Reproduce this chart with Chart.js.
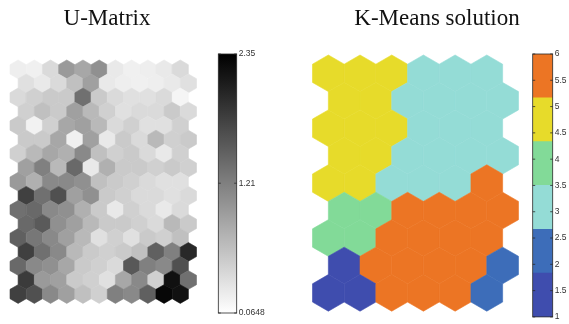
<!DOCTYPE html>
<html>
<head>
<meta charset="utf-8">
<script src="https://cdn.jsdelivr.net/npm/chart.js@4.4.1/dist/chart.umd.min.js"></script>
<style>
  html, body { margin: 0; padding: 0; background: #fff; overflow: hidden; }
  #wrap { position: relative; width: 569px; height: 324px; overflow: hidden; }
  #wrap canvas { position: absolute; top: 0; }
</style>
</head>
<body>
<div id="wrap">
  <canvas id="umat" width="214" height="324" style="left:0px;width:214px;height:324px"></canvas>
  <canvas id="ubar" width="80" height="324" style="left:200px;width:80px;height:324px"></canvas>
  <canvas id="kmap" width="274" height="324" style="left:300px;width:274px;height:324px"></canvas>
  <canvas id="kbar" width="69" height="324" style="left:500px;width:69px;height:324px"></canvas>
</div>
<script>
// U-matrix of a 9x6 hexagonal SOM: 17 rows x 11 columns of distances
const uMatrix = [
  [0.22, 0.20, 0.40, 0.97, 0.85, 1.06, 0.26, 0.20, 0.22, 0.26, 0.40],
  [0.34, 0.26, 0.40, 0.63, 0.92, 0.26, 0.22, 0.20, 0.22, 0.26, 0.34],
  [0.40, 0.49, 0.54, 0.54, 1.35, 0.54, 0.40, 0.34, 0.34, 0.40, 0.15],
  [0.49, 0.63, 0.54, 0.92, 0.69, 0.49, 0.34, 0.40, 0.40, 0.54, 0.40],
  [0.54, 0.18, 0.49, 0.85, 0.92, 0.69, 0.40, 0.49, 0.34, 0.34, 0.49],
  [0.54, 0.54, 0.85, 0.20, 0.92, 0.26, 0.54, 0.40, 0.69, 0.49, 0.54],
  [0.49, 0.69, 0.85, 0.77, 1.12, 0.63, 0.49, 0.54, 0.40, 0.26, 0.49],
  [0.92, 1.20, 0.69, 1.41, 0.26, 0.77, 0.54, 0.54, 0.49, 0.54, 0.49],
  [0.97, 0.77, 1.12, 1.12, 1.06, 0.63, 0.54, 0.49, 0.40, 0.34, 0.34],
  [1.78, 1.35, 1.63, 0.92, 1.06, 0.54, 0.49, 0.40, 0.40, 0.34, 0.40],
  [1.35, 1.41, 1.12, 1.06, 0.77, 0.54, 0.26, 0.49, 0.40, 0.26, 0.40],
  [1.41, 1.54, 1.06, 0.92, 0.69, 0.54, 0.54, 0.49, 0.40, 0.69, 0.54],
  [1.49, 1.28, 1.12, 0.92, 0.69, 0.34, 0.49, 0.34, 0.54, 0.49, 0.63],
  [1.78, 1.35, 1.12, 0.69, 0.54, 0.49, 0.54, 0.63, 1.49, 1.20, 1.99],
  [1.41, 1.12, 1.06, 0.85, 0.54, 0.49, 0.40, 1.56, 1.20, 1.12, 1.63],
  [1.82, 0.97, 0.92, 0.54, 0.49, 0.34, 0.85, 1.12, 0.49, 2.21, 1.35],
  [1.78, 1.63, 1.12, 0.92, 0.63, 0.49, 1.20, 1.12, 1.49, 2.29, 2.20]
];

// K-means cluster label (1..6) of every map unit, 9 rows x 6 columns
const kmeansClusters = [
  [5, 5, 5, 3, 3, 3],
  [5, 5, 3, 3, 3, 3],
  [5, 5, 5, 3, 3, 3],
  [5, 5, 3, 3, 3, 3],
  [5, 5, 3, 3, 3, 6],
  [4, 4, 6, 6, 6, 6],
  [4, 4, 6, 6, 6, 6],
  [1, 6, 6, 6, 6, 2],
  [1, 1, 6, 6, 6, 2]
];

const uRange = [0.0648, 2.35];
const uTicks = [0.0648, 1.21, 2.35];
const uTickLabels = ['0.0648', '1.21', '2.35'];

const kRange = [1, 6];
const kTicks = [1, 1.5, 2, 2.5, 3, 3.5, 4, 4.5, 5, 5.5, 6];
const kTickLabels = ['1', '1.5', '2', '2.5', '3', '3.5', '4', '4.5', '5', '5.5', '6'];

// palette for clusters 1..6
const clusterPalette = ['#3f4dae', '#3d6db9', '#94dcd6', '#82da98', '#e7db2a', '#ec7524'];

const titleFont = { family: 'Liberation Serif', size: 23, weight: 'normal', lineHeight: 1.2 };
const tickFont = { family: 'Liberation Sans', size: 8.5 };

// inverted gray colormap: small distance = white, large distance = black
function grayFor(v) {
  const t = Math.min(1, Math.max(0, (v - uRange[0]) / (uRange[1] - uRange[0])));
  const g = Math.round(255 * (1 - t));
  return `rgb(${g},${g},${g})`;
}

// hexagonal lattice: every odd row is shifted half a unit to the right
function latticePoints(grid) {
  const pts = [];
  grid.forEach((row, r) => row.forEach((_, c) => pts.push({ x: c + (r % 2) * 0.5, y: r })));
  return pts;
}

const uPoints = latticePoints(uMatrix);
const uColors = uMatrix.flat().map(grayFor);
const kPoints = latticePoints(kmeansClusters);
const kColors = kmeansClusters.flat().map(k => clusterPalette[k - 1]);

// draws a pointy-top hexagon around every point, sized from the scales
const hexCells = {
  id: 'hexCells',
  afterDatasetsDraw(chart) {
    const { ctx, scales: { x, y } } = chart;
    const hw = Math.abs(x.getPixelForValue(0.5) - x.getPixelForValue(0));
    const ry = Math.abs(y.getPixelForValue(1) - y.getPixelForValue(0)) / 1.5;
    ctx.save();
    chart.data.datasets.forEach((ds, di) => {
      chart.getDatasetMeta(di).data.forEach((pt, i) => {
        const fill = ds.backgroundColor[i];
        ctx.beginPath();
        ctx.moveTo(pt.x, pt.y - ry);
        ctx.lineTo(pt.x + hw, pt.y - ry / 2);
        ctx.lineTo(pt.x + hw, pt.y + ry / 2);
        ctx.lineTo(pt.x, pt.y + ry);
        ctx.lineTo(pt.x - hw, pt.y + ry / 2);
        ctx.lineTo(pt.x - hw, pt.y - ry / 2);
        ctx.closePath();
        ctx.fillStyle = fill;
        ctx.fill();
        ctx.strokeStyle = fill;
        ctx.lineWidth = 0.6;
        ctx.stroke();
      });
    });
    ctx.restore();
  }
};

// the plot area spans the whole canvas width; the x range is widened so that
// one lattice unit equals `unitPx` pixels and the map starts `leftPx` in
function mapChart(id, grid, points, colors, title, unitPx, leftPx, bottomPad, titleBottom) {
  const rows = grid.length;
  const widthPx = document.getElementById(id).width;
  const xMin = -0.5 - leftPx / unitPx;
  return new Chart(document.getElementById(id), {
    type: 'scatter',
    data: { datasets: [{ data: points, backgroundColor: colors, pointRadius: 0, pointHoverRadius: 0 }] },
    options: {
      responsive: false,
      animation: false,
      events: [],
      layout: { padding: { left: 0, right: 0, top: 0, bottom: bottomPad } },
      scales: {
        x: { type: 'linear', display: false, min: xMin, max: xMin + widthPx / unitPx },
        y: { type: 'linear', display: false, reverse: true, min: -2 / 3, max: rows - 1 + 2 / 3 }
      },
      plugins: {
        legend: { display: false },
        tooltip: { enabled: false },
        title: { display: true, text: title, color: '#111', font: titleFont, padding: { top: 5, bottom: titleBottom } }
      }
    },
    plugins: [hexCells]
  });
}

mapChart('umat', uMatrix, uPoints, uColors, 'U-Matrix', 16.217, 10, 20.6, 27.4);
mapChart('kmap', kmeansClusters, kPoints, kColors, 'K-Means solution', 31.69, 12.5, 12.8, 22.4);

// frame and inward tick marks of a colorbar
const barFrame = {
  id: 'barFrame',
  afterDraw(chart) {
    const { ctx, chartArea: a, scales: { y } } = chart;
    ctx.save();
    ctx.strokeStyle = '#2a2a2a';
    ctx.lineWidth = 0.8;
    ctx.strokeRect(a.left, a.top, a.right - a.left, a.bottom - a.top);
    y.ticks.forEach(t => {
      const py = y.getPixelForValue(t.value);
      ctx.beginPath();
      ctx.moveTo(a.left, py); ctx.lineTo(a.left + 2.5, py);
      ctx.moveTo(a.right, py); ctx.lineTo(a.right - 2.5, py);
      ctx.stroke();
    });
    ctx.restore();
  }
};

function barAxis(range, ticks, labels, width) {
  return {
    type: 'linear', position: 'right', min: range[0], max: range[1],
    grid: { display: false, drawTicks: false },
    border: { display: false },
    afterBuildTicks: s => { s.ticks = ticks.map(v => ({ value: v })); },
    afterFit: s => { s.width = width; },
    ticks: { autoSkip: false, padding: 2, color: '#333', font: tickFont, callback: (v, i) => labels[i] }
  };
}

const hiddenX = { type: 'category', display: false, stacked: true };

// gray colorbar: one floating bar filled with the colormap gradient
new Chart(document.getElementById('ubar'), {
  type: 'bar',
  data: {
    labels: [''],
    datasets: [{
      data: [uRange.slice()],
      barPercentage: 1, categoryPercentage: 1, borderWidth: 0,
      backgroundColor: c => {
        const { chart } = c;
        const ys = chart.scales.y;
        if (!chart.chartArea || !ys) return '#888';
        const g = chart.ctx.createLinearGradient(0, ys.getPixelForValue(uRange[1]), 0, ys.getPixelForValue(uRange[0]));
        for (let i = 0; i <= 20; i++) {
          g.addColorStop(i / 20, grayFor(uRange[1] - (uRange[1] - uRange[0]) * i / 20));
        }
        return g;
      }
    }]
  },
  options: {
    responsive: false, animation: false, events: [],
    layout: { padding: { left: 18.3, right: 3.3, top: 54, bottom: 11 } },
    scales: { x: hiddenX, y: barAxis(uRange, uTicks, uTickLabels, 40) },
    plugins: { legend: { display: false }, tooltip: { enabled: false } }
  },
  plugins: [barFrame]
});

// cluster colorbar: six equal bands between 1 and 6
const kStep = (kRange[1] - kRange[0]) / clusterPalette.length;
new Chart(document.getElementById('kbar'), {
  type: 'bar',
  data: {
    labels: [''],
    datasets: clusterPalette.map((col, k) => ({
      data: [[kRange[0] + k * kStep, kRange[0] + (k + 1) * kStep]],
      backgroundColor: col, borderWidth: 0, grouped: false,
      barPercentage: 1, categoryPercentage: 1
    }))
  },
  options: {
    responsive: false, animation: false, events: [],
    layout: { padding: { left: 32.7, right: 2.3, top: 54, bottom: 5 } },
    scales: { x: hiddenX, y: barAxis(kRange, kTicks, kTickLabels, 14) },
    plugins: { legend: { display: false }, tooltip: { enabled: false } }
  },
  plugins: [barFrame]
});
</script>
</body>
</html>
